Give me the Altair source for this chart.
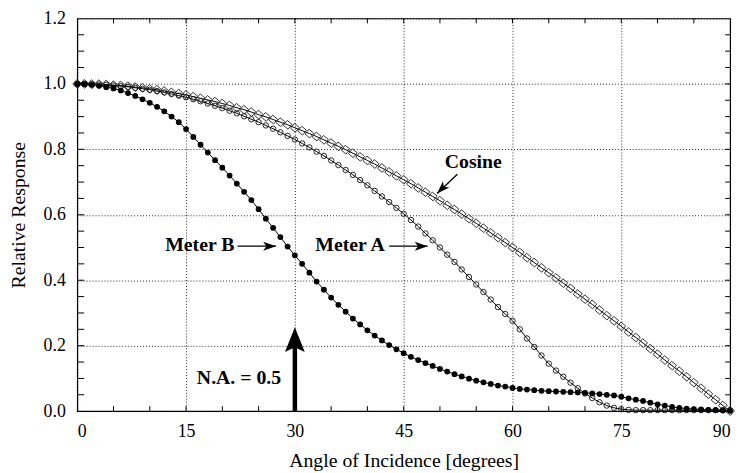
import altair as alt
import pandas as pd

# ---------------- data ----------------
angles = list(range(91))

cosine = [1.000, 1.000, 0.999, 0.999, 0.998, 0.996, 0.995, 0.993, 0.990, 0.988,
          0.985, 0.982, 0.978, 0.974, 0.970, 0.966, 0.961, 0.956, 0.951, 0.946,
          0.940, 0.934, 0.927, 0.921, 0.914, 0.906, 0.899, 0.891, 0.883, 0.875,
          0.866, 0.857, 0.848, 0.839, 0.829, 0.819, 0.809, 0.799, 0.788, 0.777,
          0.766, 0.755, 0.743, 0.731, 0.719, 0.707, 0.695, 0.682, 0.669, 0.656,
          0.643, 0.629, 0.616, 0.602, 0.588, 0.574, 0.559, 0.545, 0.530, 0.515,
          0.500, 0.485, 0.469, 0.454, 0.438, 0.423, 0.407, 0.391, 0.375, 0.358,
          0.342, 0.326, 0.309, 0.292, 0.276, 0.259, 0.242, 0.225, 0.208, 0.191,
          0.174, 0.156, 0.139, 0.122, 0.105, 0.087, 0.070, 0.052, 0.035, 0.017,
          0.000]

meter_a = [1.000, 1.000, 0.999, 0.998, 0.997, 0.995, 0.993, 0.991, 0.988, 0.985,
           0.982, 0.978, 0.974, 0.969, 0.964, 0.959, 0.953, 0.947, 0.940, 0.933,
           0.926, 0.918, 0.910, 0.901, 0.892, 0.883, 0.873, 0.863, 0.852, 0.841,
           0.830, 0.818, 0.806, 0.793, 0.780, 0.766, 0.752, 0.737, 0.722, 0.706,
           0.690, 0.673, 0.656, 0.639, 0.621, 0.603, 0.584, 0.564, 0.543, 0.522,
           0.500, 0.478, 0.456, 0.433, 0.410, 0.387, 0.364, 0.341, 0.318, 0.297,
           0.276, 0.250, 0.222, 0.196, 0.170, 0.145, 0.124, 0.105, 0.087, 0.070,
           0.054, 0.040, 0.027, 0.017, 0.010, 0.006, 0.004, 0.003, 0.003, 0.003,
           0.003, 0.003, 0.003, 0.003, 0.003, 0.003, 0.003, 0.003, 0.003, 0.003,
           0.003]

meter_b = [1.000, 0.999, 0.997, 0.994, 0.990, 0.986, 0.980, 0.972, 0.963, 0.953,
           0.942, 0.930, 0.916, 0.900, 0.883, 0.862, 0.838, 0.814, 0.790, 0.767,
           0.744, 0.720, 0.695, 0.670, 0.645, 0.617, 0.588, 0.560, 0.532, 0.503,
           0.476, 0.450, 0.423, 0.396, 0.371, 0.347, 0.325, 0.304, 0.283, 0.265,
           0.247, 0.231, 0.216, 0.202, 0.189, 0.177, 0.166, 0.156, 0.147, 0.138,
           0.129, 0.121, 0.113, 0.106, 0.099, 0.093, 0.088, 0.083, 0.078, 0.075,
           0.071, 0.068, 0.066, 0.064, 0.062, 0.061, 0.060, 0.059, 0.058, 0.057,
           0.056, 0.054, 0.052, 0.050, 0.048, 0.044, 0.039, 0.035, 0.031, 0.026,
           0.021, 0.017, 0.013, 0.010, 0.008, 0.006, 0.005, 0.004, 0.003, 0.002,
           0.001]

x_major = [0, 15, 30, 45, 60, 75, 90]
y_major = [0.0, 0.2, 0.4, 0.6, 0.8, 1.0, 1.2]
x_minor = [5, 10, 15, 20, 25, 30, 35, 40, 45, 50, 55, 60, 65, 70, 75, 80, 85]
y_minor = [0.05, 0.1, 0.15, 0.2, 0.25, 0.3, 0.35, 0.4, 0.45, 0.5, 0.55, 0.6,
           0.65, 0.7, 0.75, 0.8, 0.85, 0.9, 0.95, 1.0, 1.05, 1.1, 1.15]

label_texts = ["Cosine", "Meter A", "Meter B", "N.A. = 0.5"]
label_x = [54.6, 37.6, 16.9, 22.3]
label_y = [0.761, 0.508, 0.508, 0.100]

# small arrows: start -> tip
arrow_x0 = [52.4, 43.0, 22.1]
arrow_y0 = [0.724, 0.504, 0.504]
arrow_x1 = [49.6, 48.3, 27.4]
arrow_y1 = [0.665, 0.504, 0.504]
arrow_ang = [225, 90, 90]

# big N.A. arrow
big_x = [30]
big_y0 = [0.0]
big_y1 = [0.20]
big_tip = [0.256]

# ---------------- build ----------------
W, H = 660, 397
FONT = "Liberation Serif"

df = pd.DataFrame({
    "angle": angles * 3,
    "value": cosine + meter_a + meter_b,
    "series": ["Cosine"] * 91 + ["Meter A"] * 91 + ["Meter B"] * 91,
})

xs = alt.Scale(domain=[0, 90], nice=False, zero=False)
ys = alt.Scale(domain=[0, 1.2], nice=False)

x_axis = alt.Axis(values=x_major, grid=True, gridDash=[1, 2], gridColor="black",
                  gridOpacity=0.85, gridWidth=1, ticks=False, tickSize=0, domain=False,
                  labelFont=FONT, labelFontSize=18, labelColor="black", labelPadding=12,
                  format="d", title="Angle of Incidence [degrees]", titleFont=FONT,
                  titleFontSize=20, titleFontWeight="normal", titleColor="black",
                  titlePadding=10)
y_axis = alt.Axis(values=y_major, grid=True, gridDash=[1, 2], gridColor="black",
                  gridOpacity=0.85, gridWidth=1, ticks=False, tickSize=0, domain=False,
                  labelFont=FONT, labelFontSize=18, labelColor="black", labelPadding=12,
                  format=".1f", title="Relative Response", titleFont=FONT,
                  titleFontSize=20, titleFontWeight="normal", titleColor="black",
                  titlePadding=15)


def X(field):
    return alt.X(field, scale=xs, axis=x_axis)


def Y(field):
    return alt.Y(field, scale=ys, axis=y_axis)


base = alt.Chart(df)

lines = base.mark_line(color="black", strokeWidth=1).encode(
    x=X("angle:Q"), y=Y("value:Q"), detail="series:N")

cos_pts = base.transform_filter(alt.datum.series == "Cosine").mark_point(
    shape="square", filled=False, size=40, angle=40, stroke="#333", strokeWidth=0.9,
    opacity=1).encode(x=X("angle:Q"), y=Y("value:Q"))

a_pts = base.transform_filter(alt.datum.series == "Meter A").mark_point(
    shape="circle", filled=False, size=30, stroke="#111", strokeWidth=0.9,
    opacity=1).encode(x=X("angle:Q"), y=Y("value:Q"))

b_pts = base.transform_filter(alt.datum.series == "Meter B").mark_circle(
    size=34, color="black", opacity=1).encode(x=X("angle:Q"), y=Y("value:Q"))

# inward ticks
ydf = pd.DataFrame({"v": y_minor})
xdf = pd.DataFrame({"v": x_minor})
tick_left = alt.Chart(ydf).mark_rule(color="black", strokeWidth=1).encode(
    y=Y("v:Q"), x=alt.value(0), x2=alt.value(7))
tick_right = alt.Chart(ydf).mark_rule(color="black", strokeWidth=1).encode(
    y=Y("v:Q"), x=alt.value(W), x2=alt.value(W - 5))
tick_bottom = alt.Chart(xdf).mark_rule(color="black", strokeWidth=1).encode(
    x=X("v:Q"), y=alt.value(H), y2=alt.value(H - 5))
tick_top = alt.Chart(xdf).mark_rule(color="black", strokeWidth=1).encode(
    x=X("v:Q"), y=alt.value(0), y2=alt.value(5))

# annotations
tdf = pd.DataFrame({"t": label_texts, "x": label_x, "y": label_y})
texts = alt.Chart(tdf).mark_text(font=FONT, fontWeight="bold", fontSize=20,
                                 color="black", align="center", baseline="middle").encode(
    x=X("x:Q"), y=Y("y:Q"), text="t:N")

adf = pd.DataFrame({"x0": arrow_x0, "y0": arrow_y0, "x1": arrow_x1, "y1": arrow_y1,
                    "ang": arrow_ang})
shafts = alt.Chart(adf).mark_rule(color="black", strokeWidth=1.3).encode(
    x=X("x0:Q"), y=Y("y0:Q"), x2="x1:Q", y2="y1:Q")
heads = alt.Chart(adf).mark_point(
    shape="M0,0L0.7,2L0,1.5L-0.7,2Z", filled=True, size=169, color="black",
    opacity=1, strokeWidth=0).encode(
    x=X("x1:Q"), y=Y("y1:Q"), angle=alt.Angle("ang:Q", scale=None))

bdf = pd.DataFrame({"x": big_x, "y0": big_y0, "y1": big_y1, "tip": big_tip})
big_shaft = alt.Chart(bdf).mark_rule(color="black", strokeWidth=4.5).encode(
    x=X("x:Q"), y=Y("y0:Q"), y2="y1:Q")
big_head = alt.Chart(bdf).mark_point(
    shape="M0,0L0.8,2L0,1.6L-0.8,2Z", filled=True, size=625, color="black",
    opacity=1, strokeWidth=0).encode(x=X("x:Q"), y=Y("tip:Q"))

chart = alt.layer(
    lines, cos_pts, a_pts, b_pts,
    tick_left, tick_right, tick_bottom, tick_top,
    shafts, heads, big_shaft, big_head, texts,
).properties(
    width=W, height=H,
    autosize=alt.AutoSizeParams(type="none"),
    padding={"left": 70, "top": 8, "right": 10, "bottom": 60},
    background="white",
).configure_view(stroke="black", strokeWidth=1.2)

chart.save("out.html", embed_options={"renderer": "svg", "actions": False})
